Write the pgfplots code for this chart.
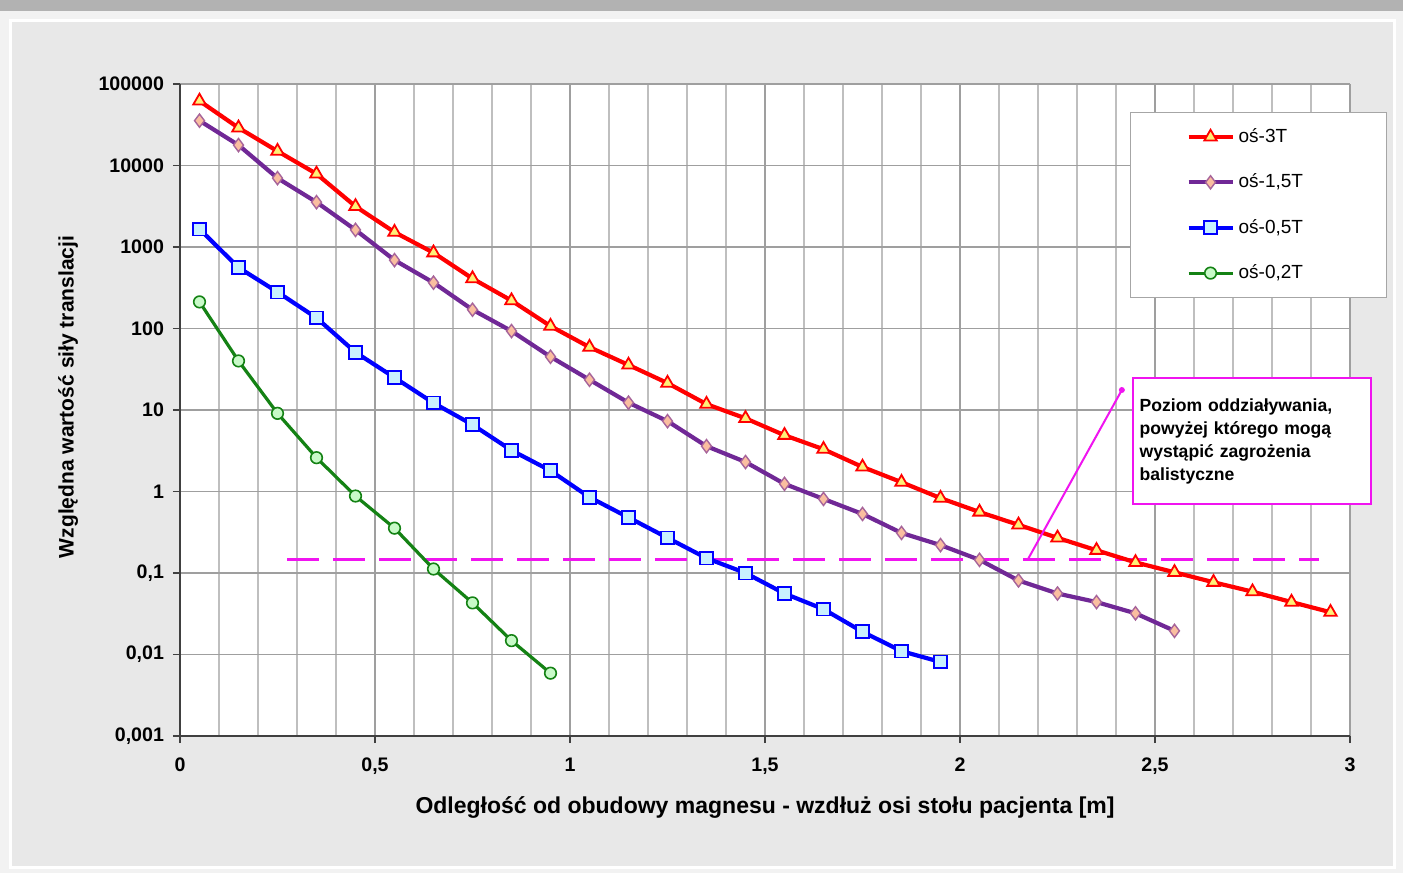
\documentclass[border=0pt]{standalone}
\usepackage{fontspec}
\setmainfont{Liberation Sans}
\usepackage{pgfplots}
\pgfplotsset{compat=1.18}
\definecolor{cRed}{RGB}{255,0,0}
\definecolor{cPur}{RGB}{112,40,150}
\definecolor{cBlu}{RGB}{0,0,255}
\definecolor{cGrn}{RGB}{20,130,20}
\definecolor{fRed}{RGB}{255,240,120}
\definecolor{fPur}{RGB}{250,190,160}
\definecolor{fBlu}{RGB}{200,240,255}
\definecolor{fGrn}{RGB}{200,250,200}
\definecolor{bgG}{RGB}{232,232,232}
\definecolor{mag}{RGB}{240,20,240}
\begin{document}
\begin{tikzpicture}
\fill[white!95!black] (0pt,0pt) rectangle (701.5pt,436.5pt);
\fill[gray!60] (0pt,431pt) rectangle (701.5pt,436.5pt);
\fill[bgG] (5pt,3pt) rectangle (697pt,426pt);
\draw[white, line width=1.5pt] (5pt,3pt) rectangle (697pt,426pt);
\useasboundingbox (0pt,0pt) rectangle (701.5pt,436.5pt);
\begin{axis}[
  at={(90pt,68.5pt)}, anchor=south west,
  width=585pt, height=326pt, scale only axis,
  ymode=log, xmin=0, xmax=3, ymin=1e-3, ymax=1e5,
  axis background/.style={fill=white},
  clip=false,
  axis x line*=bottom, axis y line*=left,
  axis line style={black!75, line width=1pt},
  xtick={0,0.5,1,1.5,2,2.5,3},
  xticklabels={0,{0,5},1,{1,5},2,{2,5},3},
  minor x tick num=4,
  ytick={1e-3,1e-2,1e-1,1,10,100,1000,10000,100000},
  yticklabels={{0,001},{0,01},{0,1},1,10,100,1000,10000,100000},
  yminorticks=false,
  grid=major, xminorgrids=true, yminorgrids=false,
  major grid style={gray!75, line width=0.9pt},
  minor grid style={gray!50, line width=0.8pt},
  tick style={black!75, line width=0.9pt},
  major tick length=3.5pt, minor tick length=0pt,
  tick align=outside,
  ticklabel style={font=\bfseries\fontsize{9.8}{11}\selectfont},
  xticklabel style={yshift=-4pt},
  yticklabel style={xshift=-1pt},
  xlabel={Odległość od obudowy magnesu - wzdłuż osi stołu pacjenta [m]},
  ylabel={Względna wartość siły translacji},
  every axis x label/.style={at={(axis description cs:0.5,-0.110)}, anchor=center, font=\bfseries\fontsize{11.5}{13}\selectfont},
  every axis y label/.style={at={(axis description cs:-0.0957,0.52)}, rotate=90, anchor=center, font=\bfseries\fontsize{10.5}{12}\selectfont},
  legend style={at={(rel axis cs:0.812,0.957)}, anchor=north west, draw=gray!70, fill=white,
    font=\fontsize{9.5}{11}\selectfont, inner xsep=28pt, inner ysep=6pt, row sep=10.2pt},
  legend cell align=left,
  legend image code/.code={\draw[mark repeat=2, mark phase=2] plot coordinates {(0pt,0pt) (11pt,0pt) (22pt,0pt)};},
]
\addplot[mag, line width=1.5pt, dash pattern=on 16pt off 7pt, forget plot] coordinates {(0.275,0.145) (2.92,0.145)};

\addplot[cRed, line width=2.1pt, mark=triangle*, mark size=3.6pt, mark options={solid, fill=fRed, draw=cRed, line width=0.9pt}] coordinates {
(0.05,62000) (0.15,29000) (0.25,15000) (0.35,7900) (0.45,3150) (0.55,1520)
(0.65,850) (0.75,410) (0.85,220) (0.95,107) (1.05,59) (1.15,35.7)
(1.25,21.4) (1.35,11.8) (1.45,7.9) (1.55,4.9) (1.65,3.3) (1.75,2.0)
(1.85,1.3) (1.95,0.83) (2.05,0.56) (2.15,0.39) (2.25,0.27) (2.35,0.19)
(2.45,0.135) (2.55,0.102) (2.65,0.077) (2.75,0.059) (2.85,0.044) (2.95,0.033)};
\addlegendentry{\makebox[44pt][l]{oś-3T}}

\addplot[cPur, line width=2.1pt, mark=diamond*, mark size=3.3pt, mark options={solid, fill=fPur, draw=cPur!60!fPur, line width=0.7pt}] coordinates {
(0.05,35500) (0.15,17800) (0.25,7000) (0.35,3550) (0.45,1620) (0.55,690)
(0.65,365) (0.75,170) (0.85,93) (0.95,45) (1.05,23.5) (1.15,12.3)
(1.25,7.3) (1.35,3.6) (1.45,2.3) (1.55,1.24) (1.65,0.81) (1.75,0.53)
(1.85,0.31) (1.95,0.22) (2.05,0.145) (2.15,0.081) (2.25,0.056) (2.35,0.044)
(2.45,0.032) (2.55,0.0195)};
\addlegendentry{\makebox[44pt][l]{oś-1,5T}}

\addplot[cBlu, line width=2.1pt, mark=square*, mark size=3.2pt, mark options={solid, fill=fBlu, draw=cBlu, line width=0.9pt}] coordinates {
(0.05,1660) (0.15,560) (0.25,280) (0.35,135) (0.45,51) (0.55,25)
(0.65,12.2) (0.75,6.6) (0.85,3.2) (0.95,1.8) (1.05,0.85) (1.15,0.48)
(1.25,0.27) (1.35,0.152) (1.45,0.10) (1.55,0.056) (1.65,0.036) (1.75,0.019)
(1.85,0.011) (1.95,0.0081)};
\addlegendentry{\makebox[44pt][l]{oś-0,5T}}

\addplot[cGrn, line width=1.6pt, mark=*, mark size=2.9pt, mark options={solid, fill=fGrn, draw=cGrn, line width=0.8pt}] coordinates {
(0.05,212) (0.15,40) (0.25,9.1) (0.35,2.6) (0.45,0.88) (0.55,0.355)
(0.65,0.112) (0.75,0.043) (0.85,0.0148) (0.95,0.0059)};
\addlegendentry{\makebox[44pt][l]{oś-0,2T}}

\draw[mag, line width=1pt] (axis cs:2.174,0.147) -- (axis cs:2.415,17.6);
\fill[mag] (axis cs:2.415,17.6) circle (1.5pt);
\node[draw=mag, line width=1pt, fill=white, anchor=north west, text width=112pt, inner sep=3.5pt,
  align=left, font=\bfseries\fontsize{8.8}{11.5}\selectfont, minimum height=63pt]
  at (axis cs:2.44,25.4) {Poziom oddziaływania,\\ powyżej którego mogą\\ wystąpić zagrożenia\\ balistyczne};
\end{axis}
\end{tikzpicture}
\end{document}
